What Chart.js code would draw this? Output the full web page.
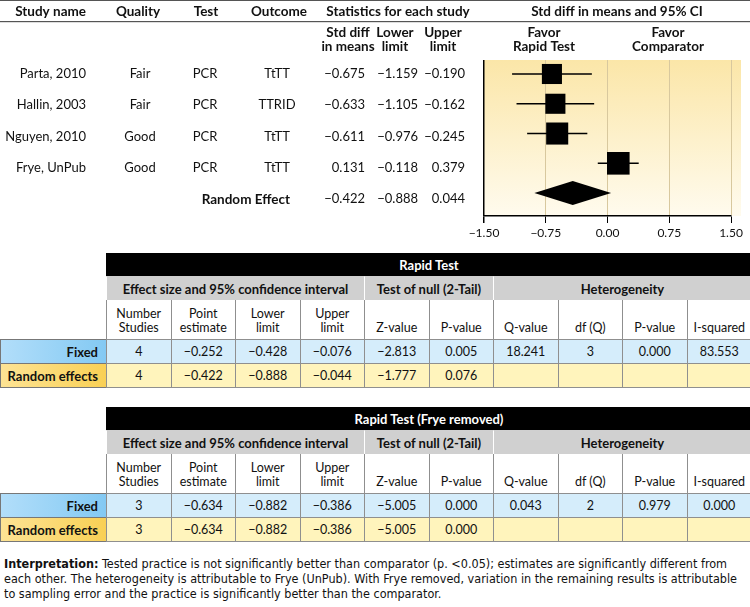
<!DOCTYPE html>
<html>
<head>
<meta charset="utf-8">
<script src="https://cdn.jsdelivr.net/npm/chart.js@4.4.0/dist/chart.umd.min.js"></script>
<style>
  body { margin: 0; width: 750px; height: 607px; position: relative; overflow: hidden; background: #fff; font-family: Lato, 'Noto Sans', sans-serif; color: #111; }
  #forest { position: absolute; left: 0; top: 0; }
  .cell { position: absolute; box-sizing: border-box; display: flex; align-items: center; justify-content: center; text-align: center; font-size: 12.5px; line-height: 14px; border: 1px solid #8f8f8f; }
  .title { background: #000; color: #fff; font-weight: bold; border-color: #000; font-size: 13px; }
  .group { background: #d0d0d0; font-weight: bold; border-color: #d0d0d0; border-left-color: #fff; font-size: 13px; }
  .head { background: #fff; align-items: flex-end; padding-bottom: 4px; border-top: none; }
  .fixed { background: #d5edfb; }
  .random { background: #fff4bc; }
  .label { justify-content: flex-end; padding-right: 8px; font-weight: bold; font-size: 13px; border-color: #777; }
  .label.fixed { background: linear-gradient(to right, #b2defa, #83c9f3); }
  .label.random { background: linear-gradient(to right, #fde394, #f9d055); }
  #note { position: absolute; left: 4px; top: 556px; width: 745px; font-family: 'Liberation Sans Narrow', 'DejaVu Sans Condensed', sans-serif; font-size: 12.5px; line-height: 15px; color: #111; }
</style>
</head>
<body>
<canvas id="forest" width="750" height="245"></canvas>
<div id="tables"></div>
<div id="note"><b>Interpretation:</b> Tested practice is not significantly better than comparator (p. &lt;0.05); estimates are significantly different from each other. The heterogeneity is attributable to Frye (UnPub). With Frye removed, variation in the remaining results is attributable to sampling error and the practice is significantly better than the comparator.</div>
<script>
// study rows
const studies = ['Parta, 2010', 'Hallin, 2003', 'Nguyen, 2010', 'Frye, UnPub'];
const quality = ['Fair', 'Fair', 'Good', 'Good'];
const tests = ['PCR', 'PCR', 'PCR', 'PCR'];
const outcomes = ['TtTT', 'TTRID', 'TtTT', 'TtTT'];
const stdDiff = [-0.675, -0.633, -0.611, 0.131];
const lowerLimit = [-1.159, -1.105, -0.976, -0.118];
const upperLimit = [-0.190, -0.162, -0.245, 0.379];
// random effect summary: estimate, lower, upper
const randomEffect = [-0.422, -0.888, 0.044];
const xTicks = [-1.5, -0.75, 0, 0.75, 1.5];

// summary tables
const tableCols = ['Number<br>Studies', 'Point<br>estimate', 'Lower<br>limit', 'Upper<br>limit', 'Z-value', 'P-value', 'Q-value', 'df (Q)', 'P-value', 'I-squared'];
const colDecimals = [0, 3, 3, 3, 3, 3, 3, 0, 3, 3];
const rapidFixed = [4, -0.252, -0.428, -0.076, -2.813, 0.005, 18.241, 3, 0.000, 83.553];
const rapidRandom = [4, -0.422, -0.888, -0.044, -1.777, 0.076, null, null, null, null];
const fryeFixed = [3, -0.634, -0.882, -0.386, -5.005, 0.000, 0.043, 2, 0.979, 0.000];
const fryeRandom = [3, -0.634, -0.882, -0.386, -5.005, 0.000, null, null, null, null];

function fmt(v, d) {
  if (v === null) return '';
  return (v < 0 ? '\u2212' : '') + Math.abs(v).toFixed(d);
}

const rowPitch = 31.3;   // text rows in the left columns
const textTop = 74;

const bgPlugin = {
  id: 'bg',
  beforeDraw(chart) {
    const { ctx, chartArea: a } = chart;
    const g = ctx.createLinearGradient(0, a.top, 0, a.bottom);
    g.addColorStop(0, '#fbe6a8');
    g.addColorStop(1, '#fffbee');
    ctx.save();
    ctx.fillStyle = g;
    ctx.fillRect(a.left, a.top, 741 - a.left, a.bottom - a.top);
    ctx.restore();
  }
};

const diamondPlugin = {
  id: 'diamond',
  afterDatasetsDraw(chart) {
    const { ctx, scales: { x, y } } = chart;
    const cy = y.getPixelForValue(studies.length + 1);
    const [est, lo, hi] = randomEffect;
    ctx.save();
    ctx.fillStyle = '#000';
    ctx.beginPath();
    ctx.moveTo(x.getPixelForValue(lo), cy);
    ctx.lineTo(x.getPixelForValue(est), cy - 12);
    ctx.lineTo(x.getPixelForValue(hi), cy);
    ctx.lineTo(x.getPixelForValue(est), cy + 12);
    ctx.closePath();
    ctx.fill();
    ctx.restore();
  }
};

const textPlugin = {
  id: 'columns',
  afterDraw(chart) {
    const ctx = chart.ctx;
    const bold = '700 13.5px Lato, sans-serif';
    const reg = '400 13px Lato, sans-serif';
    function t(s, x, y, align, font) {
      ctx.font = font;
      ctx.textAlign = align;
      ctx.fillText(s, x, y);
    }
    ctx.save();
    ctx.fillStyle = '#111';
    ctx.textBaseline = 'middle';
    // rules
    ctx.fillStyle = '#555';
    ctx.fillRect(0, 0, 750, 1);
    ctx.fillRect(0, 21, 750, 1.2);
    ctx.fillStyle = '#111';
    // headers
    t('Study name', 86, 12, 'right', bold);
    t('Quality', 138, 12, 'center', bold);
    t('Test', 206, 12, 'center', bold);
    t('Outcome', 279, 12, 'center', bold);
    t('Statistics for each study', 398, 12, 'center', bold);
    t('Std diff in means and 95% CI', 617, 12, 'center', bold);
    t('Std diff', 348, 33, 'center', bold);
    t('in means', 348, 47, 'center', bold);
    t('Lower', 395, 33, 'center', bold);
    t('limit', 395, 47, 'center', bold);
    t('Upper', 443, 33, 'center', bold);
    t('limit', 443, 47, 'center', bold);
    t('Favor', 544, 33, 'center', bold);
    t('Rapid Test', 544, 47, 'center', bold);
    t('Favor', 668, 33, 'center', bold);
    t('Comparator', 668, 47, 'center', bold);
    // study rows
    studies.forEach((s, i) => {
      const y = textTop + i * rowPitch;
      t(s, 86, y, 'right', reg);
      t(quality[i], 140, y, 'center', reg);
      t(tests[i], 205, y, 'center', reg);
      t(outcomes[i], 277, y, 'center', reg);
      t(fmt(stdDiff[i], 3), 365, y, 'right', reg);
      t(fmt(lowerLimit[i], 3), 418, y, 'right', reg);
      t(fmt(upperLimit[i], 3), 465, y, 'right', reg);
    });
    const ys = textTop + studies.length * rowPitch;
    t('Random Effect', 290, ys, 'right', bold);
    t(fmt(randomEffect[0], 3), 365, ys, 'right', reg);
    t(fmt(randomEffect[1], 3), 418, ys, 'right', reg);
    t(fmt(randomEffect[2], 3), 465, ys, 'right', reg);
    ctx.restore();
  }
};

new Chart(document.getElementById('forest'), {
  type: 'scatter',
  data: {
    datasets: [
      ...studies.map((s, i) => ({
        type: 'line',
        label: s,
        data: [{ x: lowerLimit[i], y: i + 1 }, { x: upperLimit[i], y: i + 1 }],
        borderColor: '#000',
        borderWidth: 1.5,
        pointRadius: 0,
        showLine: true
      })),
      {
        label: 'Std diff in means',
        data: stdDiff.map((v, i) => ({ x: v, y: i + 1 })),
        pointStyle: 'rect',
        pointRadius: [14.2, 14.2, 15.6, 16],
        backgroundColor: '#000',
        borderWidth: 0
      }
    ]
  },
  options: {
    responsive: false,
    animation: false,
    events: [],
    layout: { padding: { left: 484, top: 60, right: 19, bottom: 0 } },
    plugins: { legend: { display: false }, tooltip: { enabled: false } },
    scales: {
      x: {
        type: 'linear',
        min: -1.5,
        max: 1.5,
        afterBuildTicks: (s) => { s.ticks = xTicks.map((v) => ({ value: v })); },
        afterFit: (s) => { s.height = 29; },
        border: { color: '#000', width: 1.5 },
        grid: {
          color: (c) => (c.tick && c.tick.value === -1.5 ? '#000' : '#d8c89e'),
          lineWidth: (c) => (c.tick && c.tick.value === -1.5 ? 1.5 : 1),
          tickColor: '#000',
          tickLength: 7
        },
        ticks: { color: '#111', font: { family: 'Lato', size: 12 }, padding: 3, maxRotation: 0, callback: (v) => fmt(v, 2) }
      },
      y: { type: 'linear', reverse: true, min: 0.53, max: 5.77, display: false }
    }
  },
  plugins: [bgPlugin, diamondPlugin, textPlugin]
});

// tables
const host = document.getElementById('tables');
function cell(x, y, w, h, html, cls) {
  const d = document.createElement('div');
  d.className = 'cell ' + cls;
  d.style.left = x + 'px';
  d.style.top = y + 'px';
  d.style.width = (w + 1) + 'px';
  d.style.height = (h + 1) + 'px';
  d.innerHTML = html;
  host.appendChild(d);
}
function buildTable(top, title, fixedVals, randomVals) {
  const left = 106, cw = 64.5;
  const hBlack = 23, hGroup = 24, hHead = 39, hRow = 24;
  const colX = (i) => left + i * cw;
  let y = top;
  cell(left, y, cw * 10, hBlack, title, 'title');
  y += hBlack;
  cell(colX(0), y, cw * 4, hGroup, 'Effect size and 95% confidence interval', 'group');
  cell(colX(4), y, cw * 2, hGroup, 'Test of null (2-Tail)', 'group');
  cell(colX(6), y, cw * 4, hGroup, 'Heterogeneity', 'group');
  y += hGroup;
  tableCols.forEach((c, i) => cell(colX(i), y, cw, hHead, c, 'head'));
  y += hHead;
  cell(0, y, left, hRow, 'Fixed', 'label fixed');
  fixedVals.forEach((v, i) => cell(colX(i), y, cw, hRow, fmt(v, colDecimals[i]), 'fixed'));
  y += hRow;
  cell(0, y, left, hRow, 'Random effects', 'label random');
  randomVals.forEach((v, i) => cell(colX(i), y, cw, hRow, fmt(v, colDecimals[i]), 'random'));
}
buildTable(253, 'Rapid Test', rapidFixed, rapidRandom);
buildTable(407, 'Rapid Test (Frye removed)', fryeFixed, fryeRandom);
</script>
</body>
</html>
